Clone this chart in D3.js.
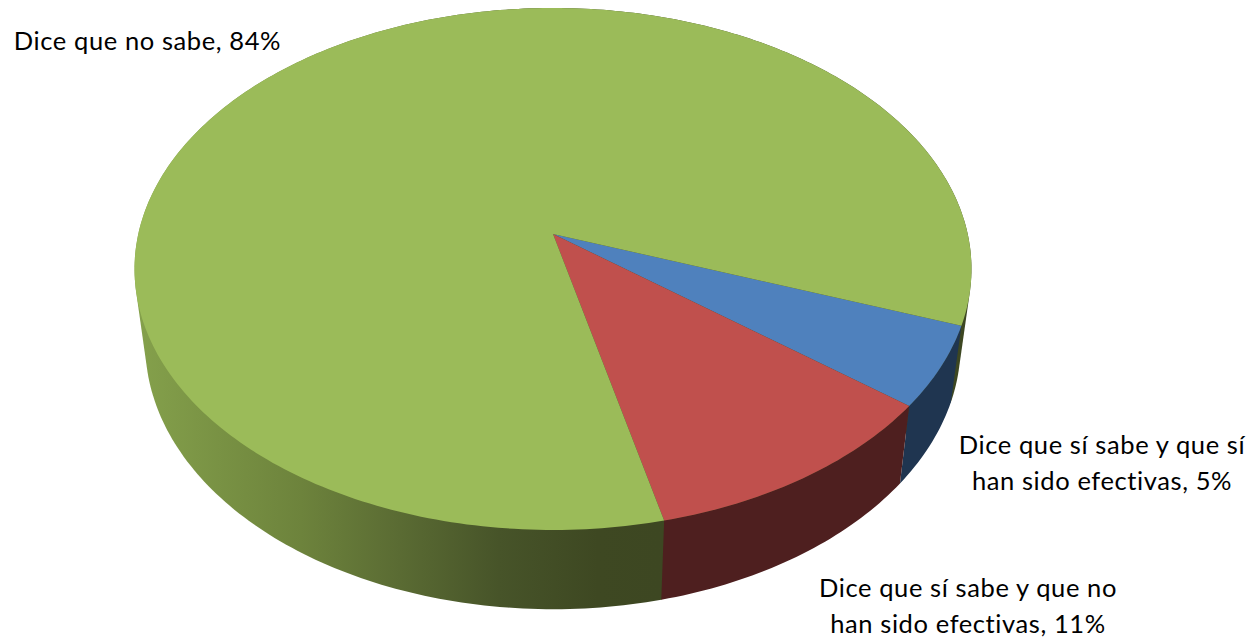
<!DOCTYPE html>
<html>
<head>
<meta charset="utf-8">
<style>
  html, body { margin: 0; padding: 0; background: #fff; }
  svg { display: block; }
  text { font-family: Lato, "Open Sans", sans-serif; font-size: 25.5px; letter-spacing: 0.6px; fill: #000; }
</style>
</head>
<body>
<svg id="chart" width="1257" height="639"></svg>
<script src="https://cdn.jsdelivr.net/npm/d3@7"></script>
<script>
var categories = ["Dice que sí sabe y que sí han sido efectivas", "Dice que sí sabe y que no han sido efectivas", "Dice que no sabe"];
var values = [5, 10.7, 84.3];
var topColors = ["#4f81bd", "#c0504d", "#9bbb59"];
var sideColors = ["#1f3550", "#4e1f1f", "url(#greenSide)"];

var width = 1257, height = 639;
var svg = d3.select("#chart");

// the pie lies tilted: circle goes through a small perspective
var persp = 0.134;
var topRim = { cx: 553, cy: 234, rx: 414.7, ry: 256.3 };
var bottomRim = { cx: 553, cy: 309, rx: 404, ry: 260 };

function project(rim, angle) {
  var x = Math.sin(angle), w = -Math.cos(angle);
  var k = 1 - persp * w;
  return [rim.cx + rim.rx * x / k, rim.cy + rim.ry * w / k];
}

function arcPoints(rim, a0, a1) {
  var n = Math.max(2, Math.ceil((a1 - a0) * 60));
  return d3.range(n + 1).map(function (i) {
    return project(rim, a0 + (a1 - a0) * i / n);
  });
}

var startAngle = 110 * Math.PI / 180;
var pie = d3.pie().sort(null)
  .startAngle(startAngle)
  .endAngle(startAngle + 2 * Math.PI);
var slices = pie(values);

var line = d3.line();

var grad = svg.append("defs").append("linearGradient")
  .attr("id", "greenSide")
  .attr("gradientUnits", "userSpaceOnUse")
  .attr("x1", 140).attr("y1", 0)
  .attr("x2", 660).attr("y2", 0);
grad.append("stop").attr("offset", "0%").attr("stop-color", "#84a04b");
grad.append("stop").attr("offset", "31%").attr("stop-color", "#6d833c");
grad.append("stop").attr("offset", "50%").attr("stop-color", "#5a6b33");
grad.append("stop").attr("offset", "69%").attr("stop-color", "#475429");
grad.append("stop").attr("offset", "88%").attr("stop-color", "#3e4822");
grad.append("stop").attr("offset", "100%").attr("stop-color", "#3d4722");

// green wall is the hull of both rims, so it goes straight down the silhouette
var green = slices[2];
svg.append("path")
  .attr("fill", sideColors[2])
  .attr("d", line(d3.polygonHull(
    arcPoints(topRim, green.startAngle, green.endAngle)
      .concat(arcPoints(bottomRim, green.startAngle, green.endAngle))
  )) + "Z");

// other side walls, the top face paints over whatever is hidden
svg.append("g").selectAll("path")
  .data(slices.slice(0, 2))
  .enter()
  .append("path")
  .attr("fill", function (d, i) { return sideColors[i]; })
  .attr("d", function (d) {
    var upper = arcPoints(topRim, d.startAngle, d.endAngle);
    var lower = arcPoints(bottomRim, d.startAngle, d.endAngle).reverse();
    return line(upper.concat(lower)) + "Z";
  });

svg.append("g").selectAll("path")
  .data(slices)
  .enter()
  .append("path")
  .attr("fill", function (d, i) { return topColors[i]; })
  .attr("d", function (d) {
    var pts = [[topRim.cx, topRim.cy]].concat(arcPoints(topRim, d.startAngle, d.endAngle));
    return line(pts) + "Z";
  });

// labels, wrapped by hand like the original
var pct = d3.format(".0f");
var labels = [
  { x: 147.5, y: 50, lines: [categories[2] + ", " + pct(values[2]) + "%"] },
  { x: 1102, y: 453.5, lines: ["Dice que sí sabe y que sí", "han sido efectivas, " + pct(values[0]) + "%"] },
  { x: 968, y: 597, lines: ["Dice que sí sabe y que no", "han sido efectivas, " + pct(values[1]) + "%"] }
];

labels.forEach(function (l) {
  var t = svg.append("text")
    .attr("text-anchor", "middle")
    .attr("x", l.x)
    .attr("y", l.y);
  l.lines.forEach(function (s, j) {
    t.append("tspan")
      .attr("x", l.x)
      .attr("dy", j === 0 ? 0 : 36)
      .text(s);
  });
});
</script>
</body>
</html>
